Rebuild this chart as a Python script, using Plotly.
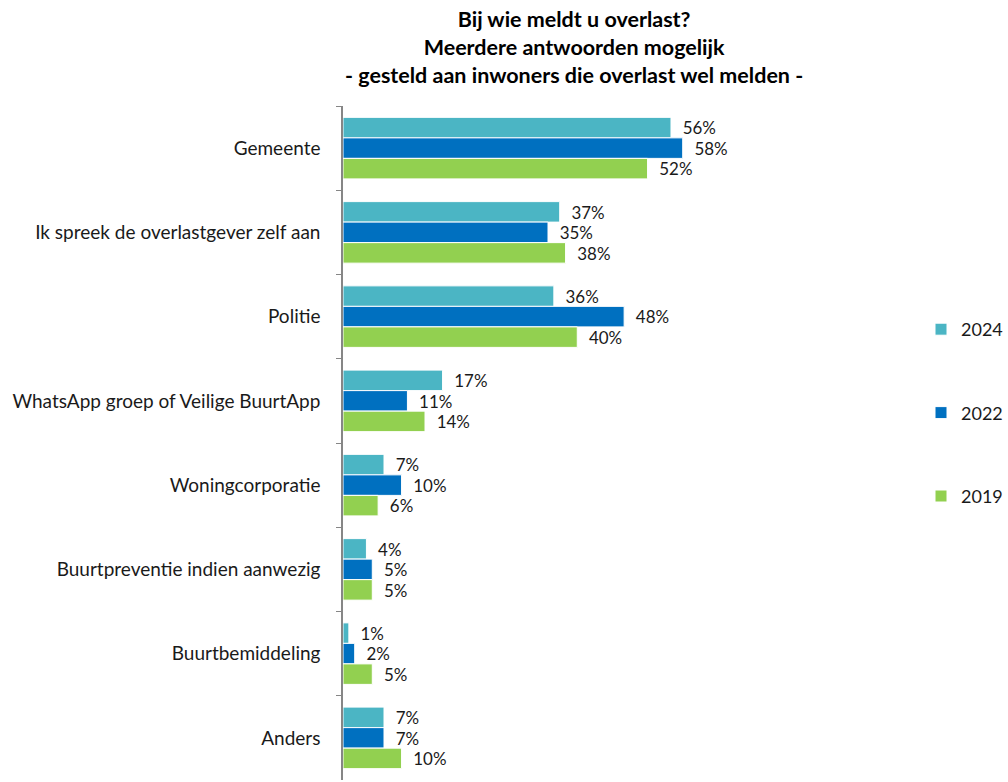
import plotly.graph_objects as go

categories = ["Gemeente", "Ik spreek de overlastgever zelf aan", "Politie",
              "WhatsApp groep of Veilige BuurtApp", "Woningcorporatie",
              "Buurtpreventie indien aanwezig", "Buurtbemiddeling", "Anders"]
series_names = ["2024", "2022", "2019"]
v2024 = [56, 37, 36, 17, 7, 4, 1, 7]
v2022 = [58, 35, 48, 11, 10, 5, 2, 7]
v2019 = [52, 38, 40, 14, 6, 5, 5, 10]
colors = ["#4BB5C4", "#0070C0", "#92D050"]

FONT = "Lato"
FS = 19
fig = go.Figure()
for i, (name, vals) in enumerate(zip(series_names, [v2024, v2022, v2019])):
    fig.add_trace(go.Bar(
        y=categories, x=vals, name=name, orientation="h",
        marker=dict(color=colors[i], line=dict(color="white", width=1)),
        text=[f"  {v}%" for v in vals], textposition="outside",
        textfont=dict(family=FONT, size=FS, color="#1a1a1a"),
        cliponaxis=False, legendgroup=name,
    ))

W, H = 1008, 782
left, right, top, bottom = 343, 108, 106, 2
pw, ph = W - left - right, H - top - bottom


def px_x(p):
    return (p - left) / pw


def px_y(p):
    return (H - bottom - p) / ph


fig.update_layout(
    width=W, height=H,
    margin=dict(l=left, r=right, t=top, b=bottom, autoexpand=False),
    plot_bgcolor="white", paper_bgcolor="white",
    barmode="group", bargap=0.27, bargroupgap=0,
    font=dict(family=FONT, size=FS, color="#1a1a1a"),
    xaxis=dict(range=[0, pw / 5.857], visible=False, showgrid=False),
    yaxis=dict(range=[7.5, -0.5], type="category", tickson="boundaries",
               ticks="outside", ticklen=5, tickcolor="#868686",
               showline=True, linecolor="#868686", linewidth=1.5,
               ticklabelstandoff=17,
               tickfont=dict(family=FONT, size=FS, color="#1a1a1a"), showgrid=False),
    legend=dict(x=px_x(921), xanchor="left", y=px_y(311), yanchor="top",
                font=dict(family=FONT, size=18, color="#1a1a1a"),
                tracegroupgap=57, itemwidth=30, traceorder="grouped"),
    annotations=[dict(
        text="<b>Bij wie meldt u overlast?<br>Meerdere antwoorden mogelijk<br>- gesteld aan inwoners die overlast wel melden -</b>",
        x=px_x(574), y=px_y(4), xref="paper", yref="paper", xanchor="center", yanchor="top",
        showarrow=False, align="center", font=dict(family=FONT, size=21.5, color="#000"))],
)
fig.write_html("out.html", config={"displayModeBar": False},
               post_script="document.body.style.margin='0';document.body.style.overflow='hidden';")
